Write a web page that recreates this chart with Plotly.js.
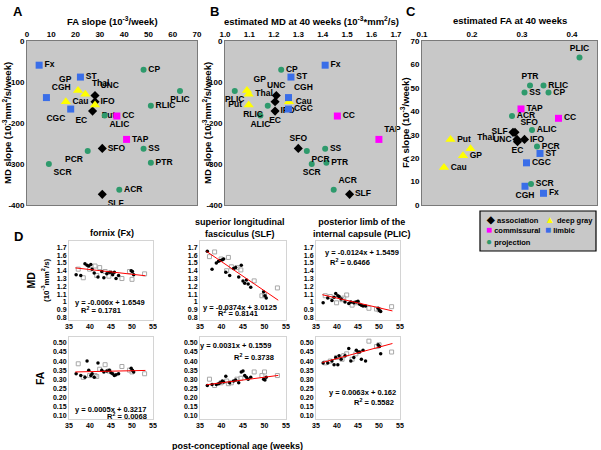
<!DOCTYPE html>
<html><head><meta charset="utf-8">
<script src="https://cdn.plot.ly/plotly-3.0.1.min.js"></script>
<style>body{margin:0;background:#fff}</style>
</head><body><div id="chart" style="width:601px;height:450px"></div>
<script>
// ===== Panels A-C: per-tract values =====
const tracts   = ['Fx','ST','CGH','CGC','GP','Thal','Cau','Put','UNC','IFO','EC','SFO','SLF','CC','TAP','CP','PLIC','RLIC','ALIC','SS','PCR','SCR','PTR','ACR'];
const groups   = ['limbic','limbic','limbic','limbic','deep gray','deep gray','deep gray','deep gray','association','association','association','association','association','commissural','commissural','projection','projection','projection','projection','projection','projection','projection','projection','projection'];
const faSlope  = [5,22,8,18,21,24,16,28,28,28,27,31,31,37,41,48,63,51,32,48,25,9,51,38];
const mdSlope  = [-59,-88,-138,-166,-121,-130,-148,-156,-133,-148,-171,-262,-374,-183,-240,-70,-122,-158,-182,-263,-268,-300,-297,-363];
const md40     = [1.41,1.27,1.26,1.26,1.09,1.097,1.262,1.097,1.21,1.205,1.205,1.30,1.51,1.46,1.63,1.23,1.04,1.175,1.145,1.41,1.335,1.355,1.415,1.445];
const fa40     = [0.343,0.336,0.306,0.309,0.182,0.197,0.144,0.157,0.29,0.305,0.291,0.286,0.282,0.373,0.298,0.353,0.415,0.343,0.320,0.305,0.330,0.318,0.316,0.280];
const groupOrder = ['association','deep gray','commissural','limbic','projection'];
const mdSlopeTicks = [0,-100,-200,-300,-400];
const faSlopeTicks = [0,10,20,30,40,50,60,70];
const md40Ticks = [1.0,1.1,1.2,1.3,1.4,1.5,1.6,1.7];
const fa40Ticks = [0.1,0.2,0.3,0.4];

// ===== Panel D: per-subject values =====
const ageFilled = [36.7,37.8,38.8,39.3,39.7,40.2,40.5,41.0,41.9,42.8,43.3,44.0,44.6,45.0,45.4,45.8,46.2,46.8,49.8,50.1,50.4];
const ageOpen   = [37.2,38.4,39.9,41.2,41.6,42.3,43.6,44.5,47.6,49.4,50.0,53.0];
const fxMdFilled  = [1.35,1.34,1.49,1.47,1.46,1.48,1.42,1.37,1.32,1.39,1.31,1.36,1.38,1.38,1.35,1.38,1.30,1.34,1.40,1.39,1.35];
const fxMdOpen    = [1.42,1.31,1.42,1.46,1.34,1.44,1.39,1.33,1.30,1.39,1.29,1.36];
const fxFaFilled  = [0.33,0.32,0.31,0.40,0.35,0.32,0.33,0.31,0.39,0.35,0.34,0.345,0.35,0.335,0.33,0.32,0.325,0.33,0.36,0.35,0.34];
const fxFaOpen    = [0.385,0.31,0.32,0.32,0.315,0.355,0.38,0.345,0.37,0.35,0.34,0.33];
const slfMdFilled = [1.65,1.42,1.50,1.52,1.53,1.54,1.55,1.38,1.34,1.43,1.44,1.32,1.47,1.27,1.24,1.28,1.23,1.19,1.13,1.08,1.05];
const slfMdOpen   = [1.58,1.64,1.55,1.40,1.57,1.45,1.44,1.41,1.27,1.08,1.09,1.18];
const slfFaFilled = [0.265,0.27,0.27,0.275,0.28,0.29,0.285,0.316,0.28,0.29,0.295,0.28,0.34,0.345,0.32,0.31,0.30,0.31,0.30,0.295,0.31];
const slfFaOpen   = [0.30,0.265,0.28,0.29,0.275,0.28,0.30,0.305,0.34,0.32,0.34,0.32];
const plicMdFilled = [0.99,1.05,1.02,1.06,1.11,1.08,1.07,1.04,1.00,0.98,1.00,0.99,1.00,1.01,0.97,0.96,0.95,0.95,0.92,0.89,0.88];
const plicMdOpen   = [1.08,1.07,0.99,1.03,1.05,1.09,0.96,0.99,0.92,0.91,0.90,0.94];
const plicFaFilled = [0.39,0.39,0.40,0.38,0.42,0.38,0.43,0.41,0.43,0.47,0.40,0.42,0.46,0.45,0.45,0.41,0.46,0.40,0.49,0.48,0.44];
const plicFaOpen   = [0.39,0.40,0.42,0.41,0.43,0.44,0.41,0.44,0.51,0.48,0.49,0.45];
const fitSlopes     = [-0.006, 0.0005, -0.0374, 0.0031, -0.0124, 0.0063];
const fitIntercepts = [1.6549, 0.3217, 3.0125, 0.1559, 1.5459, 0.162];
const fitR2         = ['0.1781','0.0068','0.8141','0.3738','0.6466','0.5582'];
const fitAgeRange   = [36.5, 53.2];
const mdTicks = [0.8,0.9,1,1.1,1.2,1.3,1.4,1.5,1.6,1.7];
const faTicks = [0.10,0.15,0.20,0.25,0.30,0.35,0.40,0.45,0.50];
const ageTicks = [35,40,45,50,55];

// ===== styles =====
const W = 601, H = 450;
const FONT = 'Liberation Sans, Arial, sans-serif';
const groupStyle = {
  'association': {symbol:'diamond', color:'#000000', size:7},
  'deep gray':   {symbol:'triangle-up', color:'#ffff00', size:9},
  'commissural': {symbol:'square', color:'#ff00ff', size:7},
  'limbic':      {symbol:'square', color:'#3a6ee8', size:7},
  'projection':  {symbol:'circle', color:'#2e9a6c', size:6}
};
const posA = ['middle right','middle right','top right','bottom left','top left','top right','middle right','bottom right','top right','middle right','bottom left','middle right','bottom right','middle right','middle right','middle right','bottom center','middle right','bottom right','middle right','bottom left','bottom right','middle right','middle right'];
const posB = ['middle right','middle right','top right','middle right','top right','middle right','middle right','middle left','top center','bottom right','bottom center','top center','middle right','middle right','top right','middle right','bottom center','bottom left','bottom center','middle right','bottom right','bottom center','middle right','top right'];
const posC = ['middle right','middle right','bottom center','middle right','middle right','top right','middle right','middle right','middle left','middle right','bottom center','top right','middle left','middle right','middle right','middle right','top center','middle right','middle right','middle right','middle right','middle right','top center','middle right'];

const px = (a,b) => [a/W, b/W];
const py = (top,bot) => [1-bot/H, 1-top/H];

const traces = [];
function panel(xs, ys, pos, xa, ya) {
  groupOrder.forEach(g => {
    const idx = tracts.map((t,i)=>i).filter(i => groups[i] === g);
    const st = groupStyle[g];
    traces.push({
      type:'scatter', mode:'markers+text', xaxis:xa, yaxis:ya, showlegend:false, cliponaxis:false,
      x: idx.map(i=>xs[i]), y: idx.map(i=>ys[i]), text: idx.map(i=>tracts[i]),
      textposition: idx.map(i=>pos[i]),
      textfont:{family:FONT, size:8.5, color:'#000', weight:'bold'},
      marker:{symbol:st.symbol, color:st.color, size:st.size, line:{width:0}}
    });
  });
}
panel(faSlope, mdSlope, posA, 'x', 'y');
panel(md40, mdSlope, posB, 'x2', 'y2');
panel(fa40, faSlope, posC, 'x3', 'y3');

const dSets = [
  [fxMdFilled, fxMdOpen], [fxFaFilled, fxFaOpen],
  [slfMdFilled, slfMdOpen], [slfFaFilled, slfFaOpen],
  [plicMdFilled, plicMdOpen], [plicFaFilled, plicFaOpen]
];
dSets.forEach((s, k) => {
  const xa = 'x' + (4+k), ya = 'y' + (4+k);
  traces.push({type:'scatter', mode:'markers', xaxis:xa, yaxis:ya, showlegend:false,
    x: ageOpen, y: s[1], marker:{symbol:'square-open', size:4, color:'#a8a8a8', line:{width:1}}});
  traces.push({type:'scatter', mode:'markers', xaxis:xa, yaxis:ya, showlegend:false,
    x: ageFilled, y: s[0], marker:{symbol:'circle', size:3.5, color:'#000'}});
  traces.push({type:'scatter', mode:'lines', xaxis:xa, yaxis:ya, showlegend:false,
    x: fitAgeRange, y: fitAgeRange.map(a => fitSlopes[k]*a + fitIntercepts[k]),
    line:{color:'#ff0000', width:1}});
});

const tickF = (s) => ({family:FONT, size:s, color:'#000', weight:'bold'});
const topPanelAxis = (dom, range, tv, tt, side) => ({
  domain: dom, range: range, tickvals: tv, ticktext: tt, side: side,
  showgrid:false, zeroline:false, showline:true, mirror:true, linecolor:'#7a7a7a', linewidth:1,
  ticks:'', tickfont: tickF(8), fixedrange:true
});
const fmt1 = v => v.toFixed(1);

const layout = {
  width: W, height: H, margin:{l:0,r:0,t:0,b:0},
  paper_bgcolor:'#ffffff', plot_bgcolor:'rgba(0,0,0,0)', showlegend:false,
  font:{family:FONT, color:'#000'},
  xaxis:  Object.assign(topPanelAxis(px(27,197), [0,70], faSlopeTicks, faSlopeTicks.map(String), 'top'), {anchor:'y'}),
  yaxis:  Object.assign(topPanelAxis(py(41,205), [-400,0], mdSlopeTicks, mdSlopeTicks.map(String), 'left'), {anchor:'x'}),
  xaxis2: Object.assign(topPanelAxis(px(225,396), [1.0,1.7], md40Ticks, md40Ticks.map(fmt1), 'top'), {anchor:'y2'}),
  yaxis2: Object.assign(topPanelAxis(py(41,205), [-400,0], mdSlopeTicks, mdSlopeTicks.map(String), 'left'), {anchor:'x2'}),
  xaxis3: Object.assign(topPanelAxis(px(422,597), [0.1,0.45], fa40Ticks, fa40Ticks.map(fmt1), 'top'), {anchor:'y3'}),
  yaxis3: Object.assign(topPanelAxis(py(41,205), [0,70], faSlopeTicks, faSlopeTicks.map(String), 'left'), {anchor:'x3'}),
  shapes: [], annotations: []
};

const colX = [[69,153],[200,286],[316,400]];
const rowMD = [241,320], rowFA = [337,419];
for (let k=0;k<6;k++){
  const c = Math.floor(k/2), isMD = (k%2===0);
  const xn = 'xaxis'+(4+k), yn = 'yaxis'+(4+k);
  layout[xn] = {domain: px(colX[c][0], colX[c][1]), range:[35,55], anchor:'y'+(4+k),
    tickvals: ageTicks, ticktext: ageTicks.map(String),
    showgrid:false, zeroline:false, showline:true, mirror:true, linecolor:'#d4d4d4', ticks:'', tickfont:tickF(7), fixedrange:true};
  layout[yn] = isMD ?
    {domain: py(rowMD[0], rowMD[1]), range:[0.77,1.78], anchor:'x'+(4+k),
     tickvals: mdTicks, ticktext: mdTicks.map(String)} :
    {domain: py(rowFA[0], rowFA[1]), range:[0.08,0.533], anchor:'x'+(4+k),
     tickvals: faTicks, ticktext: faTicks.map(v=>v.toFixed(2))};
  Object.assign(layout[yn], {showgrid:false, zeroline:false, showline:true, mirror:true, linecolor:'#d4d4d4', ticks:'', tickfont:tickF(7), fixedrange:true});
}

// gray backgrounds for A-C
['x','x2','x3'].forEach((xa,i)=>{
  const ya = ['y','y2','y3'][i];
  layout.shapes.push({type:'rect', xref:xa+' domain', yref:ya+' domain', x0:0,x1:1,y0:0,y1:1,
    fillcolor:'#c8c8c8', line:{width:0}, layer:'below'});
});

function ann(text, x, y, size, extra) {
  return Object.assign({xref:'paper', yref:'paper', x:x/W, y:1-y/H, xanchor:'center', yanchor:'middle',
    showarrow:false, text:text, font:{family:FONT, size:size, color:'#000', weight:'bold'}}, extra||{});
}
const A = layout.annotations;
A.push(ann('A', 18, 12, 13), ann('B', 214, 12, 13), ann('C', 411, 12, 13), ann('D', 18, 237, 13));
A.push(ann('FA slope (10<sup>-3</sup>/week)', 112, 21, 9.5));
A.push(ann('estimated MD at 40 weeks (10<sup>-3</sup>*mm<sup>2</sup>/s)', 311, 21, 9.5));
A.push(ann('estimated FA at 40 weeks', 510, 21, 9.5));
A.push(ann('MD slope (10<sup>-3</sup>mm<sup>2</sup>/s/week)', 7, 123, 9.5, {textangle:-90}));
A.push(ann('MD slope (10<sup>-3</sup>mm<sup>2</sup>/s/week)', 207, 123, 9.5, {textangle:-90}));
A.push(ann('FA slope (10<sup>-3</sup>/week)', 405, 123, 9.5, {textangle:-90}));

A.push(ann('fornix (Fx)', 112, 233, 9));
A.push(ann('superior longitudinal<br>fasciculus (SLF)', 240, 228, 9));
A.push(ann('posterior limb of the<br>internal capsule (PLIC)', 362, 228, 9));
A.push(ann('MD<br><span style="font-size:8px">(10<sup>-3</sup>mm<sup>2</sup>/s)</span>', 38, 280, 10.5, {textangle:-90}));
A.push(ann('FA', 40, 378, 10.5, {textangle:-90}));
A.push(ann('post-conceptional age (weeks)', 237, 446, 9));

const eqPos = [[110,302,101,310],[110,409,127,416],[240,307,238,313],[235,345,254,357],[362,252,350,262],[362,392,374,402]];
for (let k=0;k<6;k++){
  const s = fitSlopes[k], b = fitIntercepts[k];
  const eq = 'y = ' + s + 'x + ' + b;
  A.push(ann(eq, eqPos[k][0], eqPos[k][1], 7.5));
  A.push(ann('R<sup>2</sup> = ' + fitR2[k], eqPos[k][2], eqPos[k][3], 7.5));
}

// legend box
layout.shapes.push({type:'rect', xref:'paper', yref:'paper', x0:480/W, x1:596/W, y0:1-251/H, y1:1-211/H,
  fillcolor:'#c8c8c8', line:{color:'#000', width:1.2}});
const legPos = {'association':[484,219], 'deep gray':[543,219], 'commissural':[484,230], 'limbic':[543,230], 'projection':[484,241]};
const glyph = {'association':'◆','deep gray':'▲','commissural':'■','limbic':'■','projection':'●'};
groupOrder.forEach(g => {
  const p = legPos[g];
  A.push(ann('<span style="color:'+groupStyle[g].color+';font-size:10px">'+glyph[g]+'</span>&nbsp;'+g, p[0], p[1], 7.5, {xanchor:'left'}));
});

Plotly.newPlot('chart', traces, layout, {staticPlot:true, displayModeBar:false});
</script></body></html>
